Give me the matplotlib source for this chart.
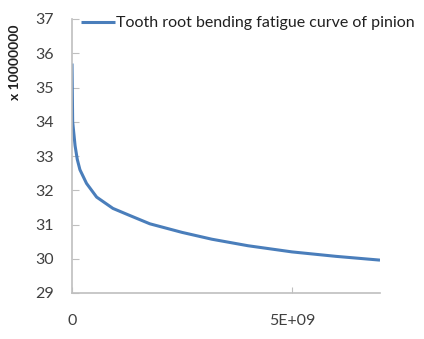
import matplotlib
matplotlib.use("Agg")
import matplotlib.pyplot as plt

# Data (x = cycles, y in units of 1e7)
cycles = [0, 0.015e9, 0.07e9, 0.12e9, 0.18e9, 0.33e9, 0.56e9, 0.93e9, 1.3e9,
          1.77e9, 2.5e9, 3.18e9, 4.0e9, 5.0e9, 6.0e9, 7.0e9]
stress = [35.7, 34.0, 33.3, 32.9, 32.6, 32.2, 31.8, 31.47, 31.27,
          31.02, 30.77, 30.57, 30.38, 30.2, 30.07, 29.96]
series_name = "Tooth root bending fatigue curve of pinion"
y_ticks = [29, 30, 31, 32, 33, 34, 35, 36, 37]
x_ticks = [0, 5e9]
x_ticklabels = ["0", "5E+09"]
y_multiplier_label = "x 10000000"

plt.rcParams['font.family'] = ['Lato', 'DejaVu Sans']

fig = plt.figure(figsize=(4.24, 3.39), dpi=100)
ax = fig.add_axes([72/424, 1-293/339, (380-72)/424, (293-19)/339])

line_color = "#4a7ebb"
axis_color = "#bfbfbf"
text_color = "#404040"

ax.plot(cycles, stress, color=line_color, lw=2.2, label=series_name,
        solid_capstyle='butt')

ax.set_xlim(0, 7e9)
ax.set_ylim(29, 37)
ax.set_yticks(y_ticks)
ax.set_yticklabels([str(v) for v in y_ticks])
ax.set_xticks(x_ticks)
ax.set_xticklabels(x_ticklabels)

for s in ["top", "right"]:
    ax.spines[s].set_visible(False)
for s in ["left", "bottom"]:
    ax.spines[s].set_color(axis_color)
    ax.spines[s].set_linewidth(1.2)

ax.tick_params(axis='y', direction='in', length=5, color=axis_color,
               labelcolor=text_color, labelsize=11.5, pad=13)
ax.tick_params(axis='x', direction='in', length=4, color=axis_color,
               labelcolor=text_color, labelsize=11.5, pad=15)

leg = ax.legend(loc='upper left', bbox_to_anchor=(-0.003, 1.045), frameon=False,
                fontsize=11.5, handlelength=2.15, handletextpad=0.05,
                borderaxespad=0.2)
for t in leg.get_texts():
    t.set_color("#202020")

fig.text(15/424, 1-62/339, y_multiplier_label, rotation=90, ha='center',
         va='center', fontsize=10, fontweight='bold', color="#202020")

fig.savefig("out.png", dpi=100)
